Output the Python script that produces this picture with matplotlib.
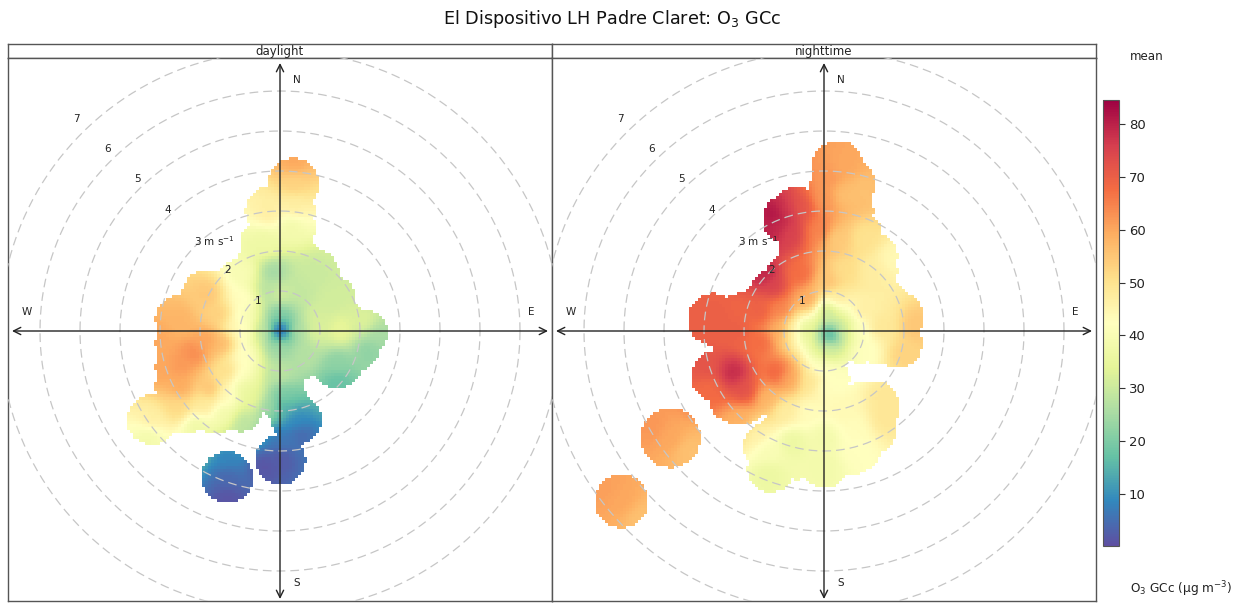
import numpy as np
import matplotlib
matplotlib.use("Agg")
import matplotlib.pyplot as plt
from matplotlib import colormaps
from matplotlib.colors import Normalize
from matplotlib.cm import ScalarMappable

TITLE = "El Dispositivo LH Padre Claret: O$_3$ GCc"
PANELS = ["daylight", "nighttime"]
COMPASS = ["N", "S", "W", "E"]
RING_SPEEDS = [1, 2, 3, 4, 5, 6, 7]
RING_LABELS = ["1", "2", "3 m s$^{-1}$", "4", "5", "6", "7"]
CBAR_TICKS = [10, 20, 30, 40, 50, 60, 70, 80]
VMIN, VMAX = 0.2, 84.5

# Daylight: sampled surface values (east wind component, north component, ug/m3)
day_u = [0, .45, -.45, 0, 0, .9, -.9, 0, -.17, -.25, .5, .83, 1.25, .9, 1.5, 2.08, 2.4, 2.2, 1.42, 1.42,
         .6, 0, .08, .08, .4, 0, 0, .5, -.4, -1.33, -1.33, -1.33, -2.5, -2.5, -2.17, -1.83, -3.1, -1.83,
         -1.1, -.95, -.92, -.38, .25, -.25, .33, .33, .33, -.9, -1.75, -1.42, -.92, -2.58, -3.21, -3.3,
         -2.08, -.9, -.3, -1.45, -1.5, -1.3, -1.0, -1.9, -1.4, -.7, -.9, -2.5, -3.0]
day_v = [0, 0, 0, .45, -.45, 0, 0, .9, 1.43, 1.0, 1.0, 1.43, .77, .3, 0, .2, -.1, -.5, -.82, -1.3,
         -.6, -1.07, -1.6, -1.9, -2.23, -2.7, -3.2, -2.6, -3.4, -3.2, -3.7, -4.2, .27, -.9, -.57, -.23, -.2, .89,
         .1, .77, 1.43, 2.18, 2.6, 2.98, 3.1, 3.68, 4.2, -.65, -1.48, -2.07, -2.3, -1.9, -2.23, -2.65,
         -2.4, -1.4, -1.9, -.3, .4, -1.05, -1.15, -1.85, -1.65, -1.7, .3, -1.4, -1.0]
day_val = [1, 26, 28, 20, 24, 33, 42, 32, 24, 27, 29, 30, 31, 32, 35, 33, 25, 22, 22, 17,
           27, 28, 20, 14, 9, 6, 2, 4, 1, 8, 4, 1, 58, 62, 64, 61, 60, 55,
           45, 43, 40, 37, 38, 47, 47, 53, 60, 42, 57, 38, 28, 52, 47, 38,
           37, 35, 24, 58, 54, 52, 42, 48, 44, 35, 40, 60, 60]
# Daylight: circles of wind speed/direction bins that hold data
day_cu = [-1.33, 0, .40, .33, -.25, -.38, .25, .83, 1.25, 2.08, 1.42, 0, 0, 0, -1, -1, 1, .6, 0, .08,
          -1.0, -1.83, -3.21, -2.5, -2.5, -2.5, -1.83, -.92, -.55, -1.5, -1.5, -.5, -1.2,
          -2.5, -2.5, -1.35, 1.6, 1.9, 1.2, -2.4, -1.6, .27, .27, -1.83, -.45, .55]
day_cv = [-3.67, -3.23, -2.23, 3.68, 2.98, 2.18, 2.60, 1.43, .77, -.07, -.82, 0, 1, -1.07, 0, 1, 0, -.6, 1.8, -1.73,
          -1.98, -1.9, -2.23, -1.82, -.9, .27, .89, 1.2, 1.5, -.5, -1.2, -1.2, .3,
          -.3, -1.4, .95, .1, -.4, -.3, -1.95, -1.95, 3.0, 2.0, .22, -.47, .6]
day_cr = [.65, .63, .63, .63, .63, .63, .63, .63, .63, .6, .63, .7, .7, .63, .7, .7, .7, .6, .6, .6,
          .55, .63, .63, .63, .63, .63, .63, .63, .63, .63, .63, .63, .63,
          .63, .63, .6, .63, .6, .63, .63, .63, .6, .6, .5, .5, .5]

# Nighttime: sampled surface values
night_u = [.15, .5, -.5, .1, .1, -.8, .85, 0, -1.1, -1.6, -2.27, -1.18, -.9, -1.1, -1.6, -1.27, -1.5, -.6, -.4,
           -2.77, -3.2, -2.2, -3, -2.9, -2, -2.1, -1.4, -1, -1.25, -.9, -.6, -.1, 0, .1, .5, .5, .9, .3, 1, 1.7,
           1.2, .5, .1, .3, 1, 1.4, 2.3, 2, 1, 0, .3, -.3, -.4, .5, 1.5, 1.5, .8, .8, 0, 0, -.8, -1.4, -1.4, -1.7,
           -3.85, -4.3, -3.4, -5.08, -4.6, -5.5, -1.2, -1.0, -1.4]
night_v = [-.1, 0, 0, .5, -.55, 0, 0, -.9, 0, -.3, -1.06, -1.06, -1.2, .5, .5, 1.1, 1.4, 1.4, .8,
           .28, .2, 0, -.9, -1.5, -1.5, -2.2, -1.7, -2, 2.9, 2.4, 3.1, 2.5, 3.3, 3.8, 4.1, 3.4, 3.5, 2.3, 2.3, 1.8,
           1.5, 1.5, 1.2, .8, .5, .1, .1, -.6, -.5, -1.4, -1.2, -1.3, -2, -2, -1.7, -2.2, -2.5, -3, -2.7, -3.4, -2.8, -3, -3.6, -2.6,
           -2.68, -2.4, -3.0, -4.27, -4.7, -4, 2.6, 3.0, 2.5]
night_val = [12, 30, 32, 28, 30, 46, 42, 42, 60, 68, 79, 70, 60, 65, 70, 75, 80, 68, 60,
             70, 70, 70, 72, 68, 73, 59, 58, 47, 83, 75, 72, 65, 62, 62, 60, 56, 56, 54, 50, 44,
             47, 51, 56, 48, 47, 49, 55, 53, 42, 42, 42, 50, 43, 44, 49, 49, 43, 42, 38, 38, 36, 40, 36, 46,
             60, 62, 56, 60, 56, 61, 79, 77, 80]
# Nighttime: circles of bins that hold data
night_cu = [.33, .6, -.68, -.93, .57, -.6, -1.27, -2.77, -2.68, -2.1, .8, 1.23, 1.85, 1.82, .9, .9, .73, 1, 0,
            -1.35, -1.45, -.7, 0, 0, 0, .4, -.8, 0, 0, 0, -.6, -1, -1.8, -2, -1.2, -1.4, -.6, .7, .8, 1, 1.4, 0,
            .6, .2, -3.85, -5.08,
            1.23, -.7, -1.1, .3, -2.1, -1.5, -2.2, -1.9, -.2, -.9, -.2, .3, 1.25, 1.5, 1.3, 0.7, -.3, 1.2, -1.5, -2.3, -1.35]
night_cv = [4.1, 3.65, 3.0, 2.78, 2.94, 2.1, .94, .28, -1.14, -1.72, 2.4, 1.86, .34, -.31, -.2, -1.95, -2.89, -2.3, -3.3,
            -3.47, -2.89, -2.3, -2.5, -1.7, -1.2, -2, -1.7, 0, .8, 1.5, 1.2, .3, .3, -.6, -.8, -1.5, -.8, .7, 2, 1, .4, -.6,
            3, 3.5, -2.68, -4.27,
            -1.9, -3.1, -2.6, -3.0, .3, .6, -.3, -1.0, 2.2, 1.4, 1.0, 2.0, 1.5, .7, -.2, -2.7, -2.9, -2.5, -1.2, -1.7, -.18]
night_cr = [.65, .67, .6, .62, .63, .55, .6, .65, .65, .65, .63, .6, .63, .63, .62, .65, .7, .65, .63,
            .58, .58, .63, .63, .63, .63, .63, .63, .8, .63, .63, .63, .63, .63, .63, .63, .63, .63, .63, .63, .63, .63, .6,
            .63, .6, .75, .67,
            .65, .63, .55, .63, .63, .63, .63, .63, .63, .55, .63, .63, .58, .6, .63, .65, .63, .6, .6, .6, .5]

W, H = 1246, 603
plt.rcParams["font.family"] = "DejaVu Sans"
fig = plt.figure(figsize=(W / 100, H / 100), dpi=100, facecolor="white")


def box(x0, y0, x1, y1):
    return [x0 / W, 1 - y1 / H, (x1 - x0) / W, (y1 - y0) / H]


cmap = colormaps["Spectral_r"]
norm = Normalize(VMIN, VMAX)
EDGE = "#555555"
STEP = 0.075


def surface(u, v, val, cu, cv, cr):
    xs = np.arange(-6.8, 6.8 + STEP, STEP)
    ys = np.arange(-6.8, 6.85 + STEP, STEP)
    X, Y = np.meshgrid(xs, ys)
    u, v, val = np.array(u), np.array(v), np.array(val, float)
    d2 = (X[..., None] - u) ** 2 + (Y[..., None] - v) ** 2
    w = 1.0 / (d2 + 0.08) ** 2
    Z = (w * val).sum(-1) / w.sum(-1)
    inside = np.zeros(X.shape, bool)
    for a, b, r in zip(cu, cv, cr):
        inside |= (X - a) ** 2 + (Y - b) ** 2 <= r ** 2
    return xs, ys, np.ma.masked_where(~inside, Z)


datasets = [(day_u, day_v, day_val, day_cu, day_cv, day_cr),
            (night_u, night_v, night_val, night_cu, night_cv, night_cr)]
frames = [(8, 552), (552, 1096)]
label_xy = [(-.55, .75), (-1.3, 1.52), (-1.63, 2.25), (-2.8, 3.02), (-3.57, 3.8), (-4.32, 4.55), (-5.1, 5.3)]

for name, data, (x0, x1) in zip(PANELS, datasets, frames):
    strip = fig.add_axes(box(x0, 44, x1, 58))
    strip.set_xticks([]); strip.set_yticks([])
    strip.text(0.5, 0.45, name, transform=strip.transAxes, ha="center", va="center", fontsize=8.5, color="#222222")
    ax = fig.add_axes(box(x0, 58, x1, 601))
    ax.set_xticks([]); ax.set_yticks([])
    for a in (strip, ax):
        for s in a.spines.values():
            s.set_color(EDGE); s.set_linewidth(1.0)
    ax.set_xlim(-6.8, 6.8)
    ax.set_ylim(-6.75, 6.825)
    xs, ys, Z = surface(*data)
    ax.pcolormesh(xs, ys, Z, cmap=cmap, norm=norm, shading="nearest", linewidth=0, rasterized=True)
    th = np.linspace(0, 2 * np.pi, 361)
    for sp in RING_SPEEDS:
        ax.plot(sp * np.cos(th), sp * np.sin(th), color="#c6c6c6", lw=0.9, ls=(0, (7, 4)), zorder=3)
    for (lx, ly), lab in zip(label_xy, RING_LABELS):
        ax.text(lx, ly, lab, ha="center", va="center", fontsize=7.5, color="#222222", zorder=5)
    for dx, dy in [(0, 1), (0, -1), (-1, 0), (1, 0)]:
        ax.annotate("", xy=(dx * 6.7, dy * 6.7), xytext=(0, 0), zorder=4,
                    arrowprops=dict(arrowstyle="->", color="#222222", lw=1.0, mutation_scale=13,
                                    shrinkA=0, shrinkB=0))
    for lab, lx, ly in zip(COMPASS, [.42, .42, -6.32, 6.28], [6.28, -6.3, .47, .47]):
        ax.text(lx, ly, lab, ha="center", va="center", fontsize=7.5, color="#222222", zorder=5)

cax = fig.add_axes(box(1103, 100, 1119, 546))
cb = fig.colorbar(ScalarMappable(norm=norm, cmap=cmap), cax=cax)
cb.set_ticks(CBAR_TICKS)
cax.tick_params(length=4, width=0.8, labelsize=9.5, color="#333333", labelcolor="#222222", pad=3)
cb.outline.set_edgecolor("#555555"); cb.outline.set_linewidth(0.8)

fig.text(1130 / W, 1 - 57 / H, "mean", ha="left", va="center", fontsize=8.6, color="#222222")
fig.text(1130 / W, 1 - 589 / H, r"O$_3$ GCc ($\mathrm{\mu}$g m$^{-3}$)", ha="left", va="center", fontsize=8.7, color="#222222")
fig.text(612 / W, 1 - 19 / H, TITLE, ha="center", va="center", fontsize=12.7, color="#111111")

fig.savefig("out.png", dpi=100)
